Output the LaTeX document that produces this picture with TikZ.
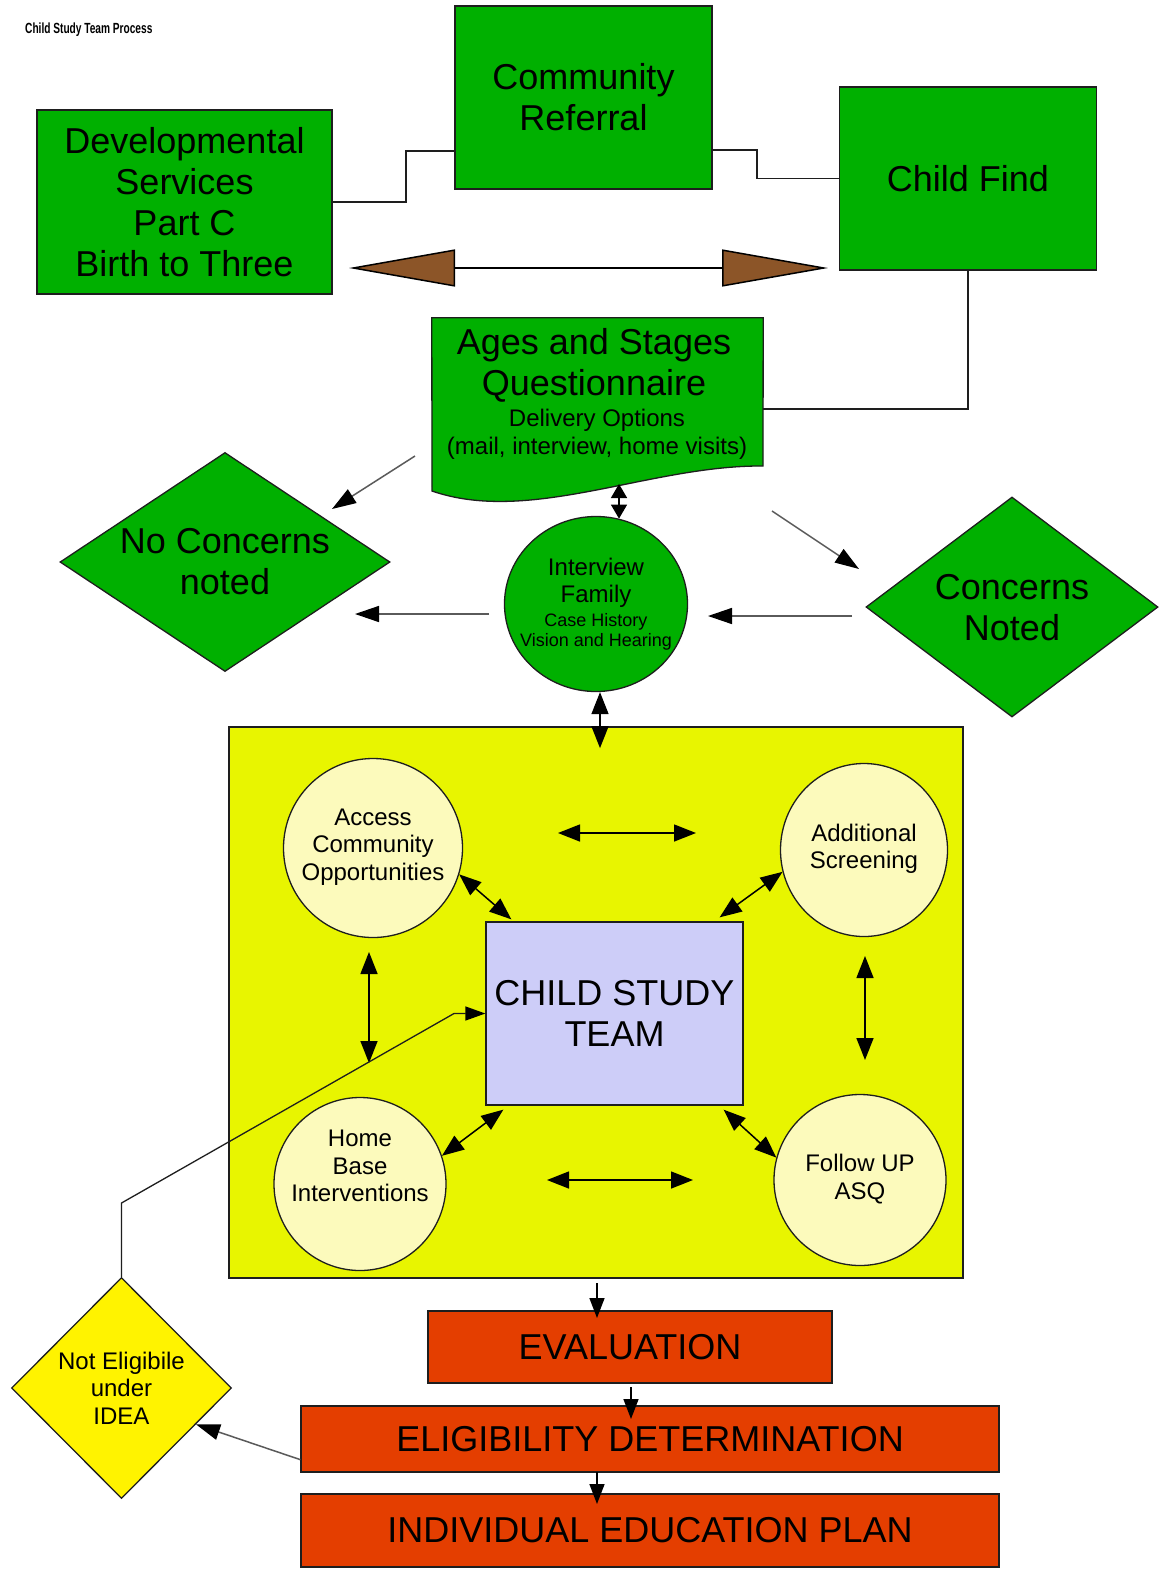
\documentclass[tikz,border=0pt]{standalone}
\usepackage{fontspec}
\setmainfont{Liberation Sans}
\newfontfamily\titlefont[FakeStretch=0.69]{Liberation Sans}
\usetikzlibrary{shapes.geometric,arrows.meta,calc}
\definecolor{gr}{RGB}{0,176,0}
\definecolor{rd}{RGB}{228,62,0}
\definecolor{yl}{RGB}{232,245,0}
\definecolor{lt}{RGB}{252,250,188}
\definecolor{lv}{RGB}{205,205,248}
\definecolor{ny}{RGB}{255,243,0}
\definecolor{brn}{RGB}{140,85,40}
\definecolor{ln}{RGB}{30,30,30}
\definecolor{gl}{RGB}{90,90,90}
\tikzset{
  box/.style={draw=ln, line width=1.3pt, inner sep=0pt, rectangle, align=center},
  gbox/.style={box, fill=gr, font=\fontsize{36}{41}\selectfont},
  rbox/.style={box, fill=rd, font=\fontsize{36}{41}\selectfont},
  circ/.style={ellipse, draw=ln, line width=1.3pt, fill=lt, inner sep=0pt},
  dia/.style={diamond, draw=ln, line width=1.3pt, inner sep=0pt},
  big/.style={font=\fontsize{36}{41}\selectfont, align=center, inner sep=0pt},
  med/.style={font=\fontsize{24}{27.5}\selectfont, align=center, inner sep=0pt},
  sml/.style={font=\fontsize{18}{20.5}\selectfont, align=center, inner sep=0pt},
  conn/.style={draw=ln, line width=1.5pt},
  dbl/.style={draw=black, line width=1.5pt, {Triangle[length=22pt,width=17pt]}-{Triangle[length=22pt,width=17pt]}},
  dbls/.style={draw=black, line width=1.5pt, {Triangle[length=14pt,width=16pt]}-{Triangle[length=14pt,width=16pt]}},
  arr/.style={draw=black, line width=1.5pt, -{Triangle[length=20pt,width=15pt]}},
  garr/.style={draw=gl, line width=1.5pt, -{Triangle[length=24pt,width=16pt,color=black]}},
}
\begin{document}
\begin{tikzpicture}[x=1pt,y=-1pt]
\fill[white] (0,0) rectangle (1159,1575);
\useasboundingbox (0,0) rectangle (1159,1575);

% title
\node[font=\titlefont\bfseries\fontsize{14.7}{16}\selectfont, anchor=west, inner sep=0pt] (title) at (25,30) {Child Study Team Process};

% top boxes
\node[gbox, minimum width=295, minimum height=184] (dev) at (184.5,202) {Developmental\\Services\\Part C\\Birth to Three};
\node[gbox, minimum width=257, minimum height=183] (cref) at (583.5,97.5) {Community\\Referral};
\node[gbox, minimum width=257, minimum height=183] (cfind) at (968,178.5) {Child Find};

\coordinate (j1) at (406,151);
\draw[conn] (dev.east) -| (j1) -- (j1 -| cref.west);
\coordinate (j2) at (757,150);
\draw[conn] (j2 -| cref.east) -- (j2) |- (cfind.west);

% brown double arrow
\coordinate (bl) at (349,268);
\coordinate (br) at (828,268);
\draw[draw=black, line width=1.5pt,
  {Triangle[length=106pt,width=37pt,fill=brn]}-{Triangle[length=106pt,width=37pt,fill=brn]}] (bl) -- (br);

% ASQ document shape
\node[minimum width=331, minimum height=182, inner sep=0pt] (asq) at (597.5,409) {};
\draw[fill=gr, draw=ln, line width=1.3pt] (asq.north west) -- (asq.north east) -- (763,466)
  .. controls (650,465) and (530,525) .. (432,491) -- cycle;
\node[big] (asqt1) at (594,365) {Ages and Stages\\Questionnaire};
\node[med, font=\fontsize{24}{28}\selectfont] (asqt2) at (597,434) {Delivery Options\\(mail, interview, home visits)};
\draw[conn] (cfind.south) |- (asq.east);

% interview
\node[ellipse, draw=ln, line width=1.3pt, fill=gr, minimum width=183, minimum height=175, inner sep=0pt] (intv) at (596,604) {};
\node[med, font=\fontsize{24}{27}\selectfont] (intvt1) at (596,583) {Interview\\Family};
\node[sml] (intvt2) at (596,632) {Case History\\Vision and Hearing};

% diamonds
\node[dia, fill=gr, minimum width=330, minimum height=219] (nocon) at (225,562) {};
\node[big] (nocont) at (225,562) {No Concerns\\noted};
\node[dia, fill=gr, minimum width=292, minimum height=220] (con) at (1012,607) {};
\node[big] (cont) at (1012,608) {Concerns\\Noted};

% arrows around interview
\coordinate (a1s) at (415,456); \coordinate (a1e) at (332,509);
\coordinate (a2s) at (772,511); \coordinate (a2e) at (859,569);
\coordinate (a3s) at (489,614); \coordinate (a3e) at (355,614);
\coordinate (a4s) at (852,616); \coordinate (a4e) at (708,616);
\draw[garr] (a1s) -- (a1e);
\draw[garr] (a2s) -- (a2e);
\draw[garr] (a3s) -- (a3e);
\draw[garr] (a4s) -- (a4e);
\coordinate (q1) at (619,484);
\draw[dbls] (q1) -- (q1 |- intv.75);

% yellow area
\node[draw=ln, line width=1.3pt, fill=yl, minimum width=734, minimum height=551, inner sep=0pt] (yb) at (596,1002.5) {};
\draw[dbl] ($(intv.south)+(4,0)$) -- ++(0,56);

\node[circ, minimum width=179, minimum height=179] (acc) at (373,848) {};
\node[med] (acct) at (373,847) {Access\\Community\\Opportunities};
\node[circ, minimum width=167, minimum height=173] (add) at (864,850) {};
\node[med] (addt) at (864,849) {Additional\\Screening};
\node[circ, minimum width=172, minimum height=173] (home) at (360,1184) {};
\node[med] (homet) at (360,1166) {Home\\Base\\Interventions};
\node[circ, minimum width=172, minimum height=171] (fol) at (860,1180) {};
\node[med] (folt) at (860,1179) {Follow UP\\ASQ};

\node[box, fill=lv, minimum width=257, minimum height=183, font=\fontsize{36}{41}\selectfont] (cst) at (614.5,1013.5) {CHILD STUDY\\TEAM};

\draw[dbl] (acc.-17) -- ($(cst.north west)+(26,-2)$);
\draw[dbl] (add.195) -- ($(cst.north east)+(-24,-4)$);
\draw[dbl] (home.19) -- ($(cst.south west)+(18,4)$);
\draw[dbl] (fol.165) -- ($(cst.south east)+(-20,4)$);

\coordinate (h1a) at (558,833); \coordinate (h1b) at (696,833);
\coordinate (h2a) at (547,1180); \coordinate (h2b) at (693,1180);
\coordinate (v1a) at (369,952); \coordinate (v1b) at (369,1063);
\coordinate (v2a) at (865,956); \coordinate (v2b) at (865,1060);
\draw[dbl] (h1a) -- (h1b);
\draw[dbl] (h2a) -- (h2b);
\draw[dbl] (v1a) -- (v1b);
\draw[dbl] (v2a) -- (v2b);

% not eligible
\node[dia, fill=ny, minimum width=220, minimum height=221] (nel) at (121.5,1388) {};
\node[med] (nelt) at (121.5,1388) {Not Eligibile\\under\\IDEA};
\coordinate (ne1) at (121.5,1203);
\coordinate (ne2) at (454,1013.5);
\draw[draw=ln, line width=1.3pt, -{Triangle[length=20pt,width=14pt,color=black]}] (nel.north) -- (ne1) -- (ne2) -- (cst.west);

% bottom boxes
\node[rbox, minimum width=404, minimum height=72] (ev) at (630,1347) {EVALUATION};
\node[rbox, minimum width=698, minimum height=66] (el) at (650,1439) {ELIGIBILITY DETERMINATION};
\node[rbox, minimum width=698, minimum height=73] (iep) at (650,1530.5) {INDIVIDUAL EDUCATION PLAN};

\coordinate (b1) at (597,1283);
\draw[arr] (b1) -- ++(0,35);
\coordinate (b2) at (631,1387);
\draw[arr] (b2) -- ++(0,32);
\coordinate (b3) at (597,1472);
\draw[arr] (b3) -- ++(0,32);
\draw[garr] ($(el.south west)+(0,-13)$) -- (nel.-26);
\end{tikzpicture}
\end{document}
